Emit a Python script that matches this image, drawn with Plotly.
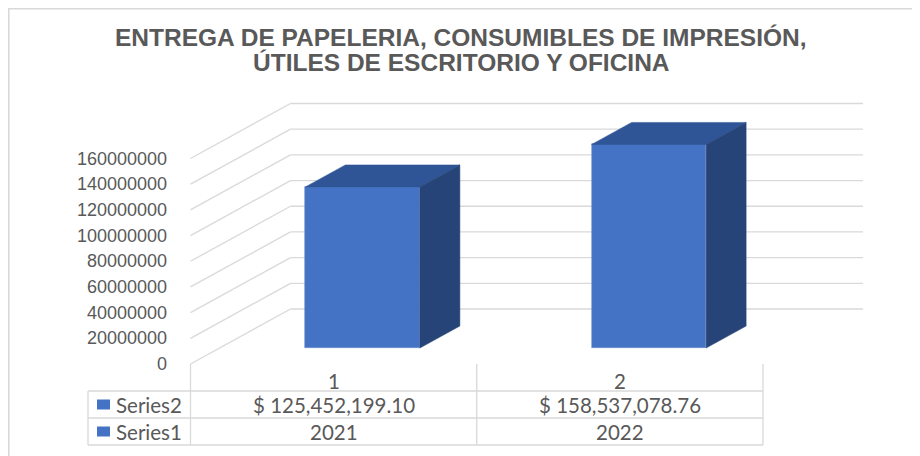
import plotly.graph_objects as go

# ---------------- data ----------------
CATEGORIES = ["1", "2"]
YEARS = ["2021", "2022"]
VALUES = [125452199.10, 158537078.76]
VALUE_LABELS = ["$ 125,452,199.10", "$ 158,537,078.76"]
SERIES_NAMES = ["Series2", "Series1"]
TICK_VALUES = [0, 20000000, 40000000, 60000000, 80000000,
               100000000, 120000000, 140000000, 160000000]
TITLE_LINES = ["ENTREGA DE PAPELERIA, CONSUMIBLES DE IMPRESIÓN,",
               "ÚTILES DE ESCRITORIO Y OFICINA"]

# ---------------- layout constants (page pixels) ----------------
PAGE_W, PAGE_H = 920, 456
OFFSET = 8                      # default body margin of the html page
W, H = PAGE_W - OFFSET, PAGE_H - OFFSET


def fp(p):
    """page pixel -> figure pixel"""
    return p - OFFSET


FRONT_LEFT_PX = fp(190.5)
FRONT_RIGHT_PX = fp(763.0)
FRONT_ZERO_PX = fp(364.0)
FRONT_TOP_PX = fp(158.5)
DEPTH_DX_PX = 100.0
DEPTH_DY_PX = 55.0

n = len(CATEGORIES)
SX = (FRONT_RIGHT_PX - FRONT_LEFT_PX) / n            # px per category unit
K = (FRONT_ZERO_PX - FRONT_TOP_PX) / TICK_VALUES[-1]  # px per value unit
X_RANGE = [0.5 - FRONT_LEFT_PX / SX, 0.5 + (W - FRONT_LEFT_PX) / SX]
Y_RANGE = [-(H - FRONT_ZERO_PX) / K, FRONT_ZERO_PX / K]
DXC = DEPTH_DX_PX / SX      # depth offset in category units
DV = DEPTH_DY_PX / K        # depth offset in value units

BAR_W = 0.4
D_FRONT = 0.29
D_DEPTH = 0.4

FRONT_COLOR = "#4472C4"
TOP_COLOR = "#2F5597"
SIDE_COLOR = "#264478"
GRID = "#D9D9D9"
TEXT = "#595959"


def px_to_x(p):
    return X_RANGE[0] + fp(p) / SX


def py_to_paper(p):
    return 1 - fp(p) / H


def pxx_to_paper(p):
    return fp(p) / W


xs_cat = [i + 1 for i in range(n)]
front_x = [c + D_FRONT * DXC for c in xs_cat]
base = D_FRONT * DV

fig = go.Figure()

# front faces
fig.add_trace(go.Bar(
    x=front_x, y=VALUES, base=[base] * n, width=BAR_W,
    marker=dict(color=FRONT_COLOR, line=dict(width=0.6, color="#6C8FD0")),
    hoverinfo="skip", showlegend=False))

# top and side faces
for fx, v in zip(front_x, VALUES):
    l, r = fx - BAR_W / 2, fx + BAR_W / 2
    ddx, ddv = D_DEPTH * DXC, D_DEPTH * DV
    fig.add_trace(go.Scatter(
        x=[l, r, r + ddx, l + ddx, l],
        y=[v + base, v + base, v + base + ddv, v + base + ddv, v + base],
        fill="toself", fillcolor=TOP_COLOR, mode="lines",
        line=dict(color=TOP_COLOR, width=0.5), hoverinfo="skip", showlegend=False))
    fig.add_trace(go.Scatter(
        x=[r, r + ddx, r + ddx, r, r],
        y=[base, base + ddv, v + base + ddv, v + base, base],
        fill="toself", fillcolor=SIDE_COLOR, mode="lines",
        line=dict(color=SIDE_COLOR, width=0.5), hoverinfo="skip", showlegend=False))

shapes = []
annotations = []

# wall gridlines (behind the bars) and value-axis labels
left_front = 0.5
right_front = n + 0.5
for t in TICK_VALUES:
    shapes.append(dict(type="line", xref="x", yref="y", layer="below",
                       x0=left_front, y0=t, x1=left_front + DXC, y1=t + DV,
                       line=dict(color=GRID, width=1.3)))
    shapes.append(dict(type="line", xref="x", yref="y", layer="below",
                       x0=left_front + DXC, y0=t + DV, x1=right_front + DXC, y1=t + DV,
                       line=dict(color=GRID, width=1.3)))
    annotations.append(dict(x=left_front, y=t, xref="x", yref="y", xshift=-22,
                            text=str(t), showarrow=False, xanchor="right", yanchor="middle",
                            font=dict(family="Liberation Sans, Arial", size=18, color=TEXT)))

# data table
TABLE_LEFT_PX = 88
ROW_LINES_PX = [391, 418, 445]
HEADER_Y_PX = 381
ROW_Y_PX = [404.5, 431.5]
table_left = px_to_x(TABLE_LEFT_PX)
for yy in ROW_LINES_PX:
    shapes.append(dict(type="line", xref="x", yref="paper",
                       x0=table_left, x1=right_front,
                       y0=py_to_paper(yy), y1=py_to_paper(yy),
                       line=dict(color=GRID, width=1.3)))
shapes.append(dict(type="line", xref="x", yref="paper", x0=table_left, x1=table_left,
                   y0=py_to_paper(ROW_LINES_PX[0]), y1=py_to_paper(ROW_LINES_PX[-1]),
                   line=dict(color=GRID, width=1.3)))
for i in range(n + 1):
    xv = 0.5 + i
    shapes.append(dict(type="line", xref="x", yref="paper", x0=xv, x1=xv,
                       y0=py_to_paper(364), y1=py_to_paper(ROW_LINES_PX[-1]),
                       line=dict(color=GRID, width=1.3)))

tfont = dict(family="Lato, Open Sans", size=20.5, color=TEXT)
for c, lab in zip(xs_cat, CATEGORIES):
    annotations.append(dict(x=c, y=py_to_paper(HEADER_Y_PX), xref="x", yref="paper",
                            text=lab, showarrow=False, xanchor="center", yanchor="middle",
                            font=tfont))
for c, lab in zip(xs_cat, VALUE_LABELS):
    annotations.append(dict(x=c, y=py_to_paper(ROW_Y_PX[0]), xref="x", yref="paper",
                            text=lab, showarrow=False, xanchor="center", yanchor="middle",
                            font=tfont))
for c, lab in zip(xs_cat, YEARS):
    annotations.append(dict(x=c, y=py_to_paper(ROW_Y_PX[1]), xref="x", yref="paper",
                            text=lab, showarrow=False, xanchor="center", yanchor="middle",
                            font=tfont))
for ry, name in zip(ROW_Y_PX, SERIES_NAMES):
    shapes.append(dict(type="rect", xref="x", yref="paper",
                       x0=px_to_x(97), x1=px_to_x(110),
                       y0=py_to_paper(ry - 5), y1=py_to_paper(ry + 5),
                       fillcolor=FRONT_COLOR, line=dict(width=0)))
    annotations.append(dict(x=px_to_x(114), y=py_to_paper(ry), xref="x", yref="paper",
                            text=name, showarrow=False, xanchor="left", yanchor="middle",
                            font=tfont))

# title (two lines, tight spacing)
TITLE_Y_PX = [37.5, 63]
for line, ty in zip(TITLE_LINES, TITLE_Y_PX):
    annotations.append(dict(x=pxx_to_paper(461), y=py_to_paper(ty), xref="paper", yref="paper",
                            text="<b>" + line + "</b>", showarrow=False,
                            xanchor="center", yanchor="middle",
                            font=dict(family="Liberation Sans, Arial", size=24.5, color=TEXT)))

# chart frame (at the page's top-left edge of the figure)
shapes.append(dict(type="rect", xref="paper", yref="paper",
                   x0=0.8 / W, x1=1.05, y0=-0.05, y1=1 - 0.8 / H,
                   line=dict(color=GRID, width=1.6)))

fig.update_layout(
    width=W, height=H,
    margin=dict(l=0, r=0, t=0, b=0),
    paper_bgcolor="white", plot_bgcolor="white",
    xaxis=dict(range=X_RANGE, visible=False, fixedrange=True),
    yaxis=dict(range=Y_RANGE, visible=False, fixedrange=True),
    shapes=shapes, annotations=annotations,
    showlegend=False, bargap=0,
)

fig.write_html("out.html")
